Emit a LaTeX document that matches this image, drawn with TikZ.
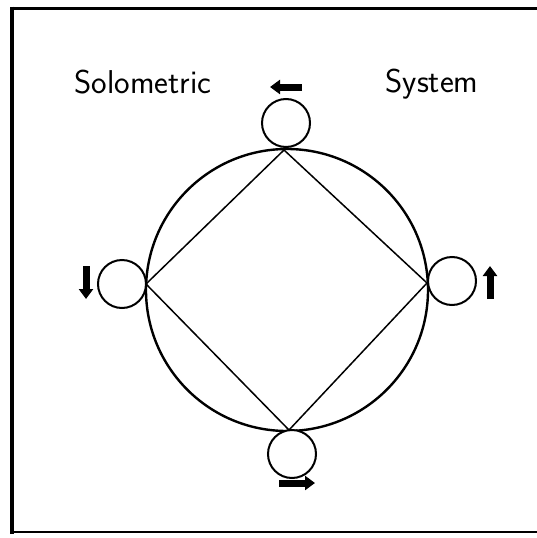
\documentclass[tikz,border=0pt]{standalone}
\usepackage{tikz}
\usetikzlibrary{positioning, arrows.meta}
\tikzset{
	wheelnode/.style={
			circle,
			draw=black,
			line width=2pt,
			fill=white,
			minimum size=48pt,
			inner sep=0pt
		},
	ringnode/.style={
			circle,
			draw=black,
			line width=2.4pt,
			minimum size=282pt,
			inner sep=0pt
		},
	titlenode/.style={
			font=\sffamily\fontsize{33}{38}\selectfont,
			inner sep=0pt
		},
	blockarrow/.style={
			line width=7pt,
			-{Triangle[length=10pt,width=14pt]}
		},
	chord/.style={
			line width=1.5pt
		}
}
\begin{document}
\begin{tikzpicture}[x=1pt, y=-1pt]
\useasboundingbox (0,0) rectangle (537,538);

% frame
\draw[line width=3pt] (537,8) -- (12,8);
\draw[line width=4pt] (12,6.5) -- (12,533.5);
\draw[line width=2.5pt] (12,532) -- (537,532);

\node[titlenode] (solo) at (143,82) {Solometric};
\node[titlenode] (sys) at (432,84) {System};

\node[ringnode] (ring) at (287,290) {};

\coordinate (vt) at (284,150);
\coordinate (vl) at (146,284);
\coordinate (vr) at (427,283);
\coordinate (vb) at (289,430);

\draw[chord] (vt) -- (vr) -- (vb) -- (vl) -- cycle;

\node[wheelnode] (wt) at (286,123) {};
\node[wheelnode] (wl) at (122,284) {};
\node[wheelnode] (wr) at (452,281) {};
\node[wheelnode] (wb) at (292,454) {};

\coordinate (at1) at (302,87);
\coordinate (at2) at (270,87);
\coordinate (al1) at (86,266);
\coordinate (al2) at (86,299);
\coordinate (ar1) at (490,299);
\coordinate (ar2) at (490,266);
\coordinate (ab1) at (279,483);
\coordinate (ab2) at (315,483);

\draw[blockarrow] (at1) -- (at2);
\draw[blockarrow] (al1) -- (al2);
\draw[blockarrow] (ar1) -- (ar2);
\draw[blockarrow] (ab1) -- (ab2);

\end{tikzpicture}
\end{document}
